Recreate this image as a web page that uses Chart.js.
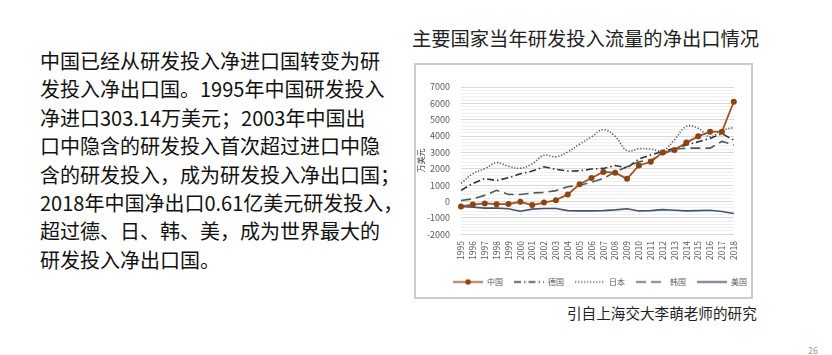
<!DOCTYPE html>
<html>
<head>
<meta charset="utf-8">
<script src="https://cdn.jsdelivr.net/npm/chart.js@4.4.1/dist/chart.umd.min.js"></script>
<style>
  html, body { margin: 0; padding: 0; background: #ffffff; }
  body { width: 832px; height: 355px; position: relative; overflow: hidden;
         font-family: "Noto Sans CJK SC", "Noto Sans", sans-serif; }
  #para { position: absolute; left: 40px; top: 47px; font-size: 20px; line-height: 28.4px;
          color: #111; white-space: nowrap; }
  #title { position: absolute; left: 412px; top: 27px; font-size: 19.3px; line-height: 22px; color: #222; white-space: nowrap; }
  #frame { position: absolute; left: 414px; top: 63px; width: 339px; height: 236px;
           border: 2px solid #cccccc; box-sizing: border-box; }
  #wrap { position: absolute; left: 416px; top: 65px; width: 335px; height: 232px; }
  #source { position: absolute; left: 567px; top: 304px; font-size: 14.6px; line-height: 18px; color: #222; white-space: nowrap; }
  #page { position: absolute; left: 808px; top: 345px; font-size: 9px; line-height: 12px; color: #a0a0a0; }
</style>
</head>
<body>
<div id="para">中国已经从研发投入净进口国转变为研<br>发投入净出口国。1995年中国研发投入<br>净进口303.14万美元；2003年中国出<br>口中隐含的研发投入首次超过进口中隐<br>含的研发投入，成为研发投入净出口国；<br>2018年中国净出口0.61亿美元研发投入，<br>超过德、日、韩、美，成为世界最大的<br>研发投入净出口国。</div>
<div id="title">主要国家当年研发投入流量的净出口情况</div>
<div id="frame"></div>
<div id="wrap"><canvas id="c" width="335" height="232"></canvas></div>
<div id="source">引自上海交大李萌老师的研究</div>
<div id="page">26</div>
<script>
const years = ['1995','1996','1997','1998','1999','2000','2001','2002','2003','2004','2005','2006',
               '2007','2008','2009','2010','2011','2012','2013','2014','2015','2016','2017','2018'];
const seriesNames = ['中国','德国','日本','韩国','美国'];
const china   = [-303,-190,-120,-170,-160,-20,-220,-70,80,430,1050,1430,1800,1760,1380,2200,2420,3000,3150,3600,3980,4270,4270,6100];
const germany = [680,1100,1400,1280,1450,1690,1860,2120,1970,1860,1870,1980,2020,2200,2050,2600,2850,3050,3250,3450,3650,3850,4150,3750];
const japan   = [1100,1700,2000,2370,2150,2030,2300,2820,2730,3030,3500,3950,4390,3980,3100,3230,3200,3100,3770,4590,4480,3950,4350,4520];
const korea   = [60,160,370,680,430,420,520,550,660,900,990,1180,1400,1810,2120,2430,2540,2890,3200,3260,3260,3260,3670,3460];
const usa     = [-310,-350,-410,-410,-450,-600,-470,-430,-430,-560,-580,-580,-560,-515,-450,-580,-560,-500,-540,-580,-560,-540,-620,-740];
const yTicksMajor = [-2000,-1000,0,1000,2000,3000,4000,5000,6000,7000];

const colors = ['#a0522d', '#333333', '#606060', '#46604f', '#44546a'];
const dashes = [[], [7,3,1.5,3], [1.3,1.7], [10,5], []];

function makeIcon(i) {
  const cv = document.createElement('canvas');
  cv.width = 30; cv.height = 9;
  const g = cv.getContext('2d');
  g.strokeStyle = colors[i];
  g.lineWidth = 1.6;
  g.setLineDash(dashes[i]);
  g.beginPath(); g.moveTo(0, 4.5); g.lineTo(30, 4.5); g.stroke();
  if (i === 0) {
    g.setLineDash([]);
    g.fillStyle = '#8b4513';
    g.beginPath(); g.arc(15, 4.5, 2.8, 0, Math.PI * 2); g.fill();
  }
  return cv;
}
const icons = seriesNames.map((_, i) => makeIcon(i));

const seriesData = [china, germany, japan, korea, usa];
const datasets = seriesNames.map((name, i) => ({
  label: name,
  data: seriesData[i],
  borderColor: colors[i],
  backgroundColor: colors[i],
  borderWidth: i === 0 ? 1.8 : 1.6,
  borderDash: dashes[i],
  borderCapStyle: 'butt',
  tension: i === 2 ? 0.4 : 0,
  pointRadius: i === 0 ? 3 : 0,
  pointBackgroundColor: '#8b4513',
  pointBorderColor: '#8b4513',
  pointBorderWidth: 0,
  fill: false,
  order: i === 0 ? 0 : 1
}));

const font = { family: '"Noto Sans CJK SC", "Noto Sans", sans-serif', size: 9 };

const legendShift = {
  id: 'legendShift',
  afterLayout(chart) {
    if (chart.legend) { chart.legend.left += 13; chart.legend.right += 13; }
  }
};

new Chart(document.getElementById('c'), {
  type: 'line',
  data: { labels: years, datasets },
  plugins: [legendShift],
  options: {
    responsive: false,
    animation: false,
    layout: { padding: { left: 0, right: 6, top: 22, bottom: 1 } },
    plugins: {
      tooltip: { enabled: false },
      legend: {
        position: 'bottom',
        align: 'end',
        labels: {
          usePointStyle: true,
          pointStyleWidth: 30,
          padding: 11,
          color: '#595959',
          font: { family: font.family, size: 8 },
          generateLabels(chart) {
            const base = Chart.defaults.plugins.legend.labels.generateLabels(chart);
            return base.map((l, i) => Object.assign(l, { pointStyle: icons[i], lineWidth: 0 }));
          }
        }
      }
    },
    scales: {
      x: {
        grid: { display: false, drawTicks: false },
        border: { display: false },
        ticks: { autoSkip: false, maxRotation: 90, minRotation: 90, padding: 7, color: '#595959', font: { family: font.family, size: 8.5 } }
      },
      y: {
        min: -2000, max: 7000,
        afterFit(scale) { scale.width = 45; },
        title: { display: true, text: '万美元', color: '#404040', font: { family: font.family, size: 8 }, padding: 0 },
        border: { display: false },
        grid: {
          drawTicks: false,
          lineWidth: 1,
          color: ctx => (ctx.tick && yTicksMajor.includes(ctx.tick.value)) ? '#d9d9d9' : '#efefef'
        },
        ticks: {
          stepSize: 200,
          autoSkip: false,
          padding: 11,
          color: '#595959',
          font,
          callback: v => yTicksMajor.includes(v) ? String(v) : ''
        }
      }
    }
  }
});
</script>
</body>
</html>
